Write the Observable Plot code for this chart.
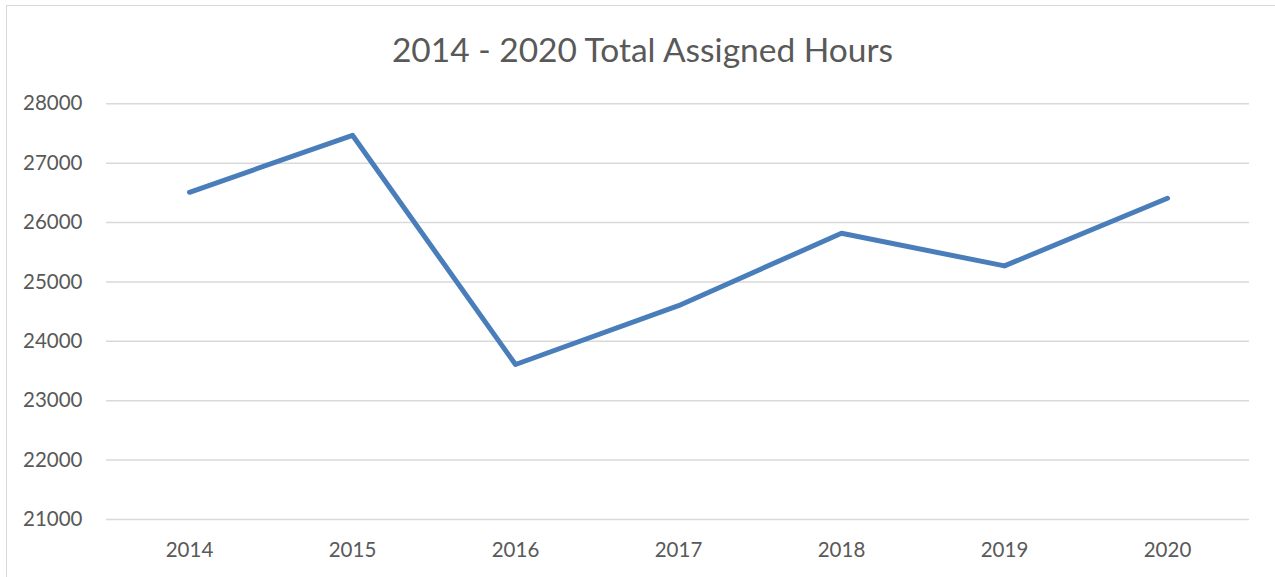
<!DOCTYPE html>
<html>
<head>
<meta charset="utf-8">
<script src="https://cdn.jsdelivr.net/npm/d3@7"></script>
<script src="https://cdn.jsdelivr.net/npm/@observablehq/plot@0.6"></script>
<style>
  html, body { margin: 0; padding: 0; background: #fff; overflow: hidden; }
  #wrap { position: relative; width: 1275px; height: 577px; }
  #frame { position: absolute; left: 6px; top: 5px; width: 1400px; height: 700px;
           border-left: 1px solid #d9d9d9; border-top: 1px solid #d9d9d9; box-sizing: border-box; }
  #chart { position: absolute; left: 0; top: 0; }
</style>
</head>
<body>
<div id="wrap">
  <div id="frame"></div>
  <div id="chart"></div>
</div>
<script>
const title = "2014 - 2020 Total Assigned Hours";
const years = ["2014", "2015", "2016", "2017", "2018", "2019", "2020"];
const hours = [26510, 27470, 23610, 24600, 25820, 25270, 26410];
const yTicks = [21000, 22000, 23000, 24000, 25000, 26000, 27000, 28000];

const data = years.map((y, i) => ({year: y, value: hours[i]}));

const plot = Plot.plot({
  width: 1275,
  height: 577,
  marginLeft: 106,
  marginRight: 26,
  marginTop: 103.3,
  marginBottom: 58,
  style: {fontFamily: "Lato, sans-serif", fontSize: "20px", color: "#595959", background: "transparent"},
  x: {type: "point", domain: years, padding: 0.5, label: null},
  y: {domain: [21000, 28000], label: null},
  marks: [
    Plot.gridY(yTicks, {stroke: "#d9d9d9", strokeOpacity: 1, strokeWidth: 1.5}),
    Plot.axisY(yTicks, {tickSize: 0, tickPadding: 24, tickFormat: d => String(d), fill: "#595959", fontSize: 20.5}),
    Plot.axisX(years, {tickSize: 0, tickPadding: 23, fill: "#595959", fontSize: 20.5}),
    Plot.line(data, {x: "year", y: "value", stroke: "#4a7ebb", strokeWidth: 5, strokeLinecap: "round", strokeLinejoin: "round"}),
    Plot.text([title], {frameAnchor: "top", lineAnchor: "bottom", dy: -42.3, dx: -35.5, text: d => d,
      fontSize: 33.5, fill: "#595959", fontFamily: "Lato, sans-serif"})
  ]
});
document.getElementById("chart").appendChild(plot);
</script>
</body>
</html>
